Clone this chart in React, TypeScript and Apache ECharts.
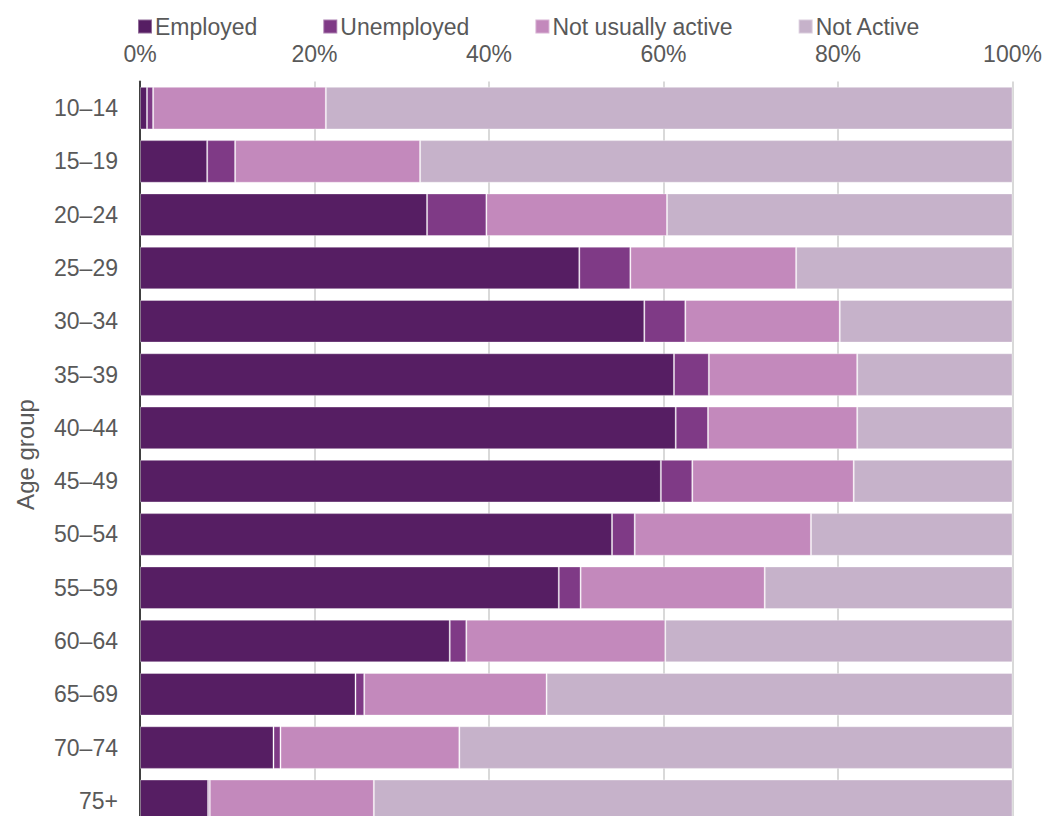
import React, { useEffect, useRef } from "react";
import * as echarts from "echarts";

const categories = ["10–14", "15–19", "20–24", "25–29", "30–34", "35–39", "40–44", "45–49", "50–54", "55–59", "60–64", "65–69", "70–74", "75+"];
const employed = [0.8, 7.7, 32.9, 50.35, 57.8, 61.2, 61.4, 59.7, 54.1, 48.0, 35.5, 24.7, 15.3, 7.8];
const unemployed = [0.7, 3.2, 6.8, 5.85, 4.7, 4.0, 3.7, 3.6, 2.6, 2.5, 1.9, 1.0, 0.8, 0.2];
const notUsuallyActive = [19.8, 21.2, 20.7, 19.0, 17.7, 17.0, 17.1, 18.5, 20.2, 21.1, 22.8, 20.9, 20.5, 18.8];
const notActive = [78.7, 67.9, 39.6, 24.8, 19.8, 17.8, 17.8, 18.2, 23.1, 28.4, 39.8, 53.4, 63.4, 73.2];
const seriesNames = ["Employed", "Unemployed", "Not usually active", "Not Active"];
const seriesColors = ["#561E63", "#7F3A86", "#C389BC", "#C6B2CA"];
const xTicks = [0, 20, 40, 60, 80, 100];

export default function App() {
  const ref = useRef<HTMLDivElement>(null);
  useEffect(() => {
    if (!ref.current) return;
    const chart = echarts.init(ref.current, null, { renderer: "svg" });
    const font = "Liberation Sans, Arial, sans-serif";
    const values = [employed, unemployed, notUsuallyActive, notActive];
    chart.setOption({
      animation: false,
      textStyle: { fontFamily: font },
      legend: {
        top: 10,
        left: 132,
        itemGap: 65,
        itemWidth: 14,
        itemHeight: 14,
        icon: "rect",
        textStyle: { fontSize: 23, color: "#595959", fontFamily: font, padding: [0, 0, 0, -2] },
        data: seriesNames,
      },
      grid: { left: 140, right: 34.5, top: 81.5, height: 746, containLabel: false, outerBoundsMode: "none" },
      xAxis: {
        type: "value",
        position: "top",
        min: xTicks[0],
        max: xTicks[xTicks.length - 1],
        interval: 20,
        axisLine: { show: false },
        axisTick: { show: false },
        axisLabel: { formatter: "{value}%", fontSize: 23, color: "#595959", margin: 16, fontFamily: font },
        splitLine: { show: true, lineStyle: { color: "#D9D9D9", width: 2 } },
      },
      yAxis: {
        type: "category",
        data: categories,
        inverse: true,
        name: "Age group",
        nameLocation: "middle",
        nameRotate: 90,
        nameGap: 103,
        nameTextStyle: { fontSize: 24, color: "#595959", fontFamily: font },
        axisLine: { show: true, lineStyle: { color: "#404040", width: 2 } },
        axisTick: { show: false },
        axisLabel: { fontSize: 23, color: "#595959", margin: 22, fontFamily: font },
      },
      series: seriesNames.map((name, i) => ({
        name,
        type: "bar",
        stack: "total",
        barCategoryGap: "20%",
        data: values[i],
        itemStyle: { color: seriesColors[i], borderColor: "rgba(255,255,255,0.35)", borderWidth: 1 },
      })),
    });
    return () => chart.dispose();
  }, []);
  return (
    <div style={{ position: "fixed", left: 0, top: 0, width: 1047, height: 816, overflow: "hidden", background: "#fff" }}>
      <div ref={ref} style={{ width: 1047, height: 860 }} />
    </div>
  );
}
